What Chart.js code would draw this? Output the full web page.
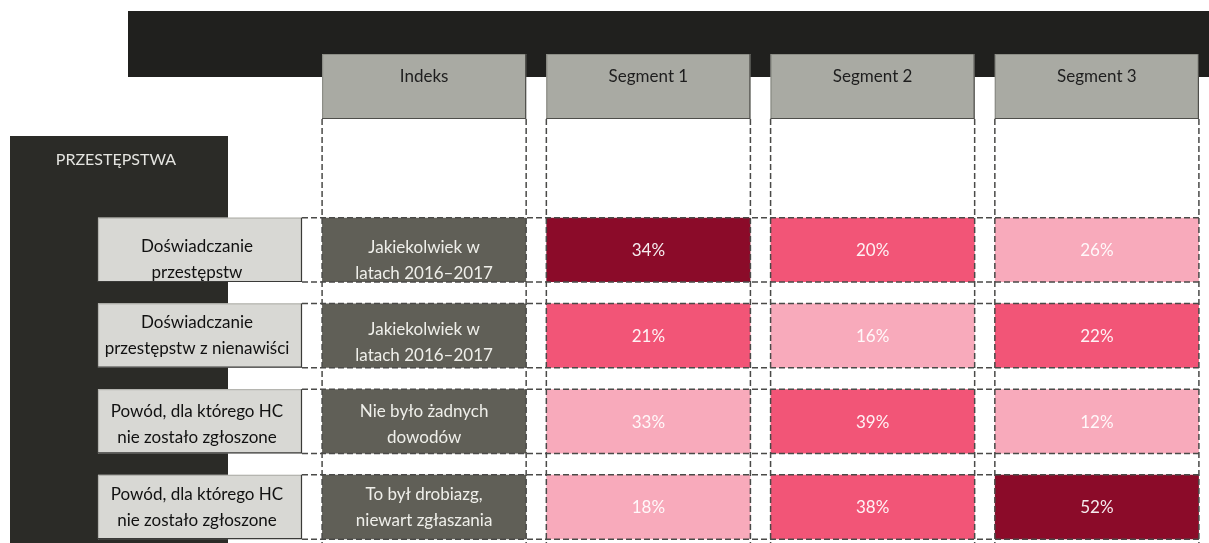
<!DOCTYPE html>
<html>
<head>
<meta charset="utf-8">
<script src="https://cdn.jsdelivr.net/npm/chart.js@4/dist/chart.umd.min.js"></script>
<style>
  html, body { margin: 0; padding: 0; background: #fff; }
  #wrap { width: 1209px; height: 543px; }
</style>
</head>
<body>
<div id="wrap"><canvas id="tabela" width="1209" height="543"></canvas></div>
<script>
// dane
const kolumny = ['Indeks', 'Segment 1', 'Segment 2', 'Segment 3'];
const tytul = 'PRZESTĘPSTWA';
const wiersze = [
  ['Doświadczanie', 'przestępstw'],
  ['Doświadczanie', 'przestępstw z nienawiści'],
  ['Powód, dla którego HC', 'nie zostało zgłoszone'],
  ['Powód, dla którego HC', 'nie zostało zgłoszone']
];
const indeksOpis = [
  ['Jakiekolwiek w', 'latach 2016–2017'],
  ['Jakiekolwiek w', 'latach 2016–2017'],
  ['Nie było żadnych', 'dowodów'],
  ['To był drobiazg,', 'niewart zgłaszania']
];
const segment1 = [34, 21, 33, 18];
const segment2 = [20, 16, 39, 38];
const segment3 = [26, 22, 12, 52];
// poziom wyróżnienia komórki: 0 niski, 1 średni, 2 wysoki
const poziom1 = [2, 1, 0, 0];
const poziom2 = [1, 0, 1, 1];
const poziom3 = [0, 1, 0, 2];

const segmenty = [segment1, segment2, segment3];
const poziomy = [poziom1, poziom2, poziom3];
const koloryPoziomu = ['#F8AABB', '#F25577', '#8B0B29'];
const kolorIndeksu = '#605F57';
const czcionka = 'Lato, "Open Sans", sans-serif';

const datasets = wiersze.map((w, i) => ({
  label: w.join(' '),
  data: kolumny.map(() => [i + 0.125, i + 0.875]),
  backgroundColor: kolumny.map((k, j) => j === 0 ? kolorIndeksu : koloryPoziomu[poziomy[j - 1][i]]),
  borderWidth: 0,
  borderSkipped: false,
  barPercentage: 0.91,
  categoryPercentage: 1.0,
  grouped: false
}));

function pudelko(ctx, x1, y1, x2, y2, fill, jasny, ciemny) {
  ctx.fillStyle = fill;
  ctx.fillRect(x1, y1, x2 - x1, y2 - y1);
  ctx.lineWidth = 1.2;
  ctx.strokeStyle = jasny;
  ctx.beginPath();
  ctx.moveTo(x1 + 0.5, y2); ctx.lineTo(x1 + 0.5, y1 + 0.5); ctx.lineTo(x2, y1 + 0.5);
  ctx.stroke();
  ctx.strokeStyle = ciemny;
  ctx.beginPath();
  ctx.moveTo(x2 - 0.5, y1); ctx.lineTo(x2 - 0.5, y2 - 0.5); ctx.lineTo(x1, y2 - 0.5);
  ctx.stroke();
}

// przesunięcia pionowe tekstu w wierszach (jak w oryginale)
const przesuniecieEtykiet = [10, 0, 3, 1];
const przesuniecieIndeksu = [11, 7, 3, 1];

const tlo = {
  id: 'tlo',
  beforeDatasetsDraw(chart) {
    const ctx = chart.ctx;
    const meta0 = chart.getDatasetMeta(0);
    ctx.save();
    ctx.fillStyle = '#fff';
    ctx.fillRect(0, 0, chart.width, chart.height);
    // górny czarny pas
    ctx.fillStyle = '#20201E';
    ctx.fillRect(128, 11, chart.width - 128, 66);
    // panel boczny
    ctx.fillStyle = '#2B2B27';
    ctx.fillRect(10, 136, 218, chart.height - 136);
    ctx.fillStyle = '#E4E4E0';
    ctx.font = '16px ' + czcionka;
    ctx.textAlign = 'center';
    ctx.textBaseline = 'middle';
    ctx.fillText(tytul, 116, 160);
    // nagłówki kolumn
    meta0.data.forEach((el, j) => {
      const x1 = el.x - el.width / 2, x2 = el.x + el.width / 2;
      pudelko(ctx, x1, 54, x2, 119, '#A9AAA3', '#8C8D86', '#4E4E4A');
      ctx.fillStyle = '#1E1E1E';
      ctx.font = '17px ' + czcionka;
      ctx.fillText(kolumny[j], el.x, 77);
    });
    // etykiety wierszy
    chart.data.datasets.forEach((ds, i) => {
      const el = chart.getDatasetMeta(i).data[0];
      const top = Math.min(el.y, el.base), bot = Math.max(el.y, el.base);
      pudelko(ctx, 98, top, 302, bot, '#D8D8D4', '#B5B5B0', '#3A3A38');
      ctx.save();
      ctx.beginPath();
      ctx.rect(0, top, chart.width, bot - top);
      ctx.clip();
      ctx.fillStyle = '#111';
      ctx.font = '17px ' + czcionka;
      const c = (top + bot) / 2 - 13 + przesuniecieEtykiet[i];
      ctx.fillText(wiersze[i][0], 197, c);
      ctx.fillText(wiersze[i][1], 197, c + 26);
      ctx.restore();
    });
    ctx.restore();
  },
  afterDatasetsDraw(chart) {
    const ctx = chart.ctx;
    const meta0 = chart.getDatasetMeta(0);
    ctx.save();
    // linie przerywane
    ctx.setLineDash([6, 3]);
    ctx.lineWidth = 1.5;
    ctx.strokeStyle = '#4A4A48';
    meta0.data.forEach(el => {
      [el.x - el.width / 2, el.x + el.width / 2].forEach(x => {
        ctx.beginPath();
        ctx.moveTo(x, 119);
        ctx.lineTo(x, chart.height);
        ctx.stroke();
      });
    });
    const prawa = meta0.data[meta0.data.length - 1];
    const xPrawa = prawa.x + prawa.width / 2;
    chart.data.datasets.forEach((ds, i) => {
      const el = chart.getDatasetMeta(i).data[0];
      [el.y, el.base].forEach(y => {
        ctx.beginPath();
        ctx.moveTo(302, y);
        ctx.lineTo(xPrawa, y);
        ctx.stroke();
      });
    });
    ctx.setLineDash([]);
    // teksty w komórkach
    ctx.textAlign = 'center';
    ctx.textBaseline = 'middle';
    ctx.font = '17px ' + czcionka;
    chart.data.datasets.forEach((ds, i) => {
      chart.getDatasetMeta(i).data.forEach((el, j) => {
        const c = (el.y + el.base) / 2;
        if (j === 0) {
          ctx.fillStyle = '#EFEFEA';
          const y = c - 13 + przesuniecieIndeksu[i];
          ctx.fillText(indeksOpis[i][0], el.x, y);
          ctx.fillText(indeksOpis[i][1], el.x, y + 26);
        } else {
          ctx.fillStyle = 'rgba(255,255,255,0.92)';
          ctx.fillText(segmenty[j - 1][i] + '%', el.x, c + 1);
        }
      });
    });
    ctx.restore();
  }
};

new Chart(document.getElementById('tabela').getContext('2d'), {
  type: 'bar',
  data: { labels: kolumny, datasets: datasets },
  options: {
    responsive: false,
    animation: false,
    layout: { padding: { left: 312, right: 0, top: 207, bottom: 0 } },
    scales: {
      x: { display: false },
      y: { display: false, reverse: true, min: 0, max: 3.92 }
    },
    plugins: {
      legend: { display: false },
      tooltip: { enabled: false }
    }
  },
  plugins: [tlo]
});
</script>
</body>
</html>
